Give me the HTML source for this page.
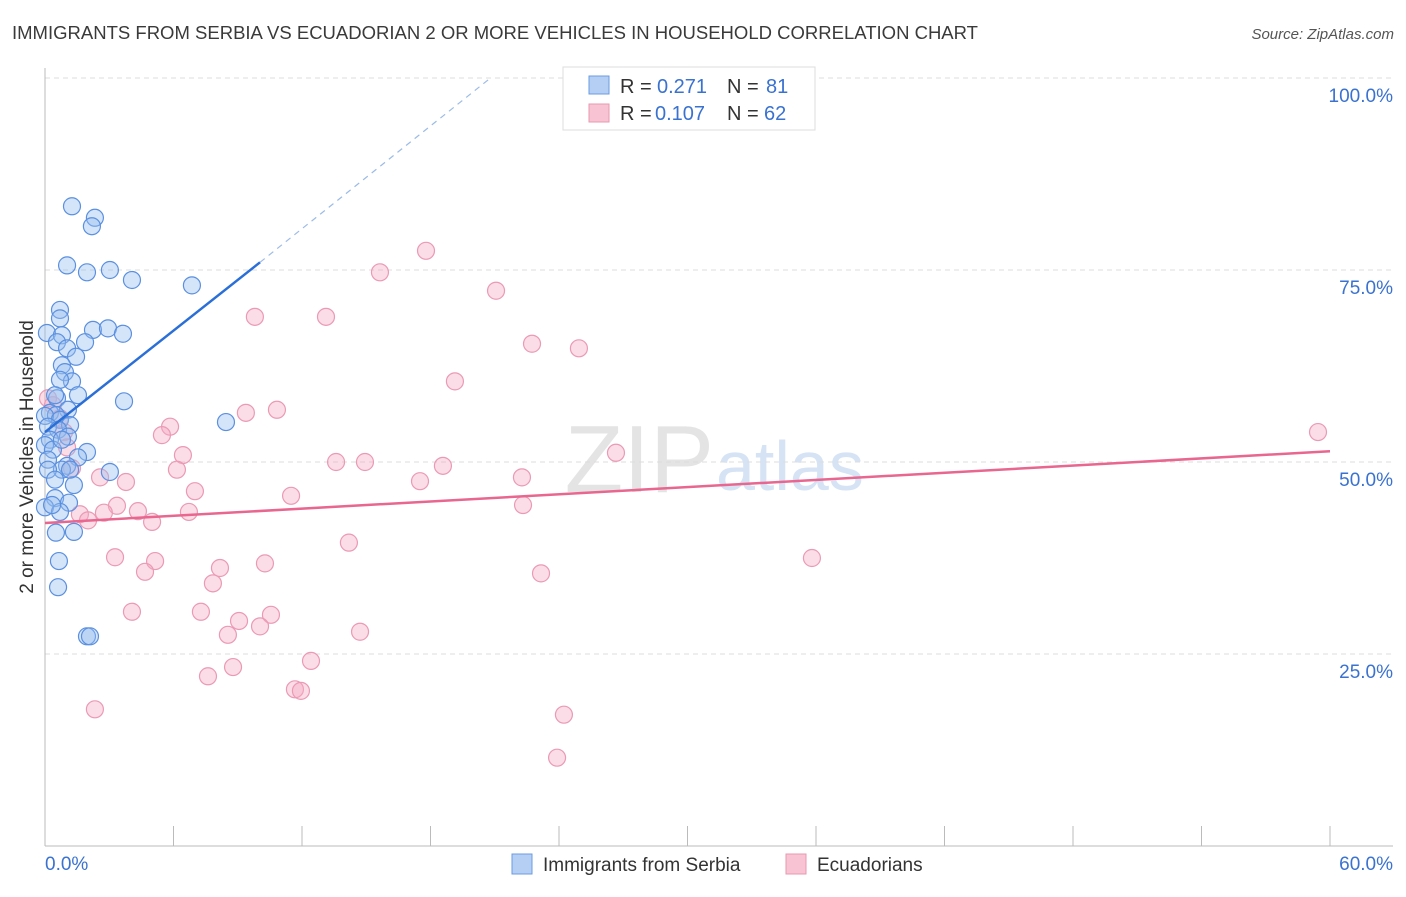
<!DOCTYPE html>
<html><head><meta charset="utf-8"><style>
body{margin:0;background:#fff;font-family:"Liberation Sans",sans-serif}
svg text{font-family:"Liberation Sans",sans-serif}
</style></head><body>
<svg id="chart" width="1406" height="892">
<text x="12" y="39" font-size="18" fill="#3a3a3a" textLength="966" lengthAdjust="spacingAndGlyphs">IMMIGRANTS FROM SERBIA VS ECUADORIAN 2 OR MORE VEHICLES IN HOUSEHOLD CORRELATION CHART</text>
<text x="1394" y="39" font-size="15" fill="#555" font-style="italic" text-anchor="end">Source: ZipAtlas.com</text>
<text x="714" y="492" font-size="96" fill="#e4e4e4" text-anchor="end" font-family="Liberation Serif">ZIP</text>
<text x="716" y="490" font-size="70" fill="#d6e3f5">atlas</text>
<g id="grid"></g><g id="axes"></g><g id="pts"></g><g id="trend"></g>
<text transform="translate(33,457) rotate(-90)" font-size="19" fill="#333" text-anchor="middle">2 or more Vehicles in Household</text>
<g>
<rect x="563" y="67" width="252" height="63" fill="#fff" stroke="#ddd"/>
<rect x="589" y="76" width="20" height="18" fill="#b4cff3" stroke="#6b9be0"/>
<rect x="589" y="104" width="20" height="18" fill="#f8c3d3" stroke="#e89ab2"/>
<g font-size="20">
<text x="620" y="93" fill="#333">R =</text><text x="657" y="93" fill="#3a72d0">0.271</text><text x="727" y="93" fill="#333">N =</text><text x="766" y="93" fill="#3a72d0">81</text></g>
<g font-size="20">
<text x="620" y="120" fill="#333">R =</text><text x="655" y="120" fill="#3a72d0">0.107</text><text x="727" y="120" fill="#333">N =</text><text x="764" y="120" fill="#3a72d0">62</text></g>
</g>
<g>
<rect x="512" y="854" width="20" height="20" fill="#b4cff3" stroke="#6b9be0"/>
<text x="543" y="871" font-size="19" fill="#333">Immigrants from Serbia</text>
<rect x="786" y="854" width="20" height="20" fill="#f8c3d3" stroke="#e89ab2"/>
<text x="817" y="871" font-size="19" fill="#333">Ecuadorians</text>
</g>
</svg>
<script>
const yTicks=[25,50,75,100];
const yTickLabels=["25.0%","50.0%","75.0%","100.0%"];
const xTickLabels=["0.0%","60.0%"];
const serbiaX=[1.26,2.33,2.19,1.03,1.96,3.03,4.06,6.86,0.70,0.70,0.09,0.79,2.24,2.94,3.64,0.56,1.87,1.03,1.45,0.79,0.93,1.26,0.70,1.54,3.69,0.56,1.07,0.23,0.51,0,0.70,1.17,0.14,0.61,1.07,0.23,0,1.96,0.37,1.54,0.14,1.03,0.79,3.03,1.35,0.14,0.47,8.45,0.47,1.12,0,0.70,0.51,1.35,0.65,0.61,1.96,2.10,0.33,0.79,0.47,1.17];
const serbiaY=[83.3,81.8,80.7,75.6,74.7,75.0,73.7,73.0,69.8,68.7,66.8,66.5,67.2,67.4,66.7,65.6,65.6,64.8,63.7,62.6,61.7,60.5,60.7,58.7,57.9,58.3,56.8,56.4,56.1,56.0,55.5,54.8,54.6,54.2,53.3,52.9,52.2,51.3,51.6,50.6,50.3,49.5,49.0,48.7,47.0,49.0,47.7,55.2,45.3,44.7,44.1,43.5,40.8,40.9,37.1,33.7,27.3,27.3,44.4,52.9,58.7,49.0];
const ecuX=[17.79,15.64,21.06,9.80,13.12,22.74,24.93,19.14,0.14,0.37,0.70,10.83,9.38,5.84,5.46,0.89,1.03,6.44,26.66,13.59,6.16,2.57,3.78,14.94,18.58,17.51,22.27,7.00,11.49,3.36,4.34,2.75,6.72,1.63,2.01,5.00,22.32,14.19,3.27,5.14,35.81,10.27,4.67,8.17,7.84,23.16,4.06,7.28,10.55,9.06,10.04,8.54,14.71,12.42,8.78,7.61,11.67,11.95,2.33,24.23,23.91,59.44,1.26];
const ecuY=[77.5,74.7,72.3,68.9,68.9,65.4,64.8,60.5,58.3,57.4,55.7,56.8,56.4,54.6,53.5,53.9,51.9,50.9,51.2,50.0,49.0,48.0,47.4,50.0,49.5,47.5,48.0,46.2,45.6,44.3,43.6,43.4,43.5,43.2,42.4,42.2,44.4,39.5,37.6,37.1,37.5,36.8,35.7,36.2,34.2,35.5,30.5,30.5,30.1,29.3,28.6,27.5,27.9,24.1,23.3,22.1,20.4,20.2,17.8,17.1,11.5,53.9,49.2];
const serbiaTrend=[0,53.9,10.04,76.0,20.8,100];
const ecuTrend=[0,42.06,60,51.4];
const X=v=>45+v/60*1285, Y=v=>846-v/100*768;
const NS="http://www.w3.org/2000/svg";
function mk(t,a,p){const e=document.createElementNS(NS,t);for(const k in a)e.setAttribute(k,a[k]);p.appendChild(e);return e;}
const grid=document.getElementById('grid'),axes=document.getElementById('axes'),pts=document.getElementById('pts'),tr=document.getElementById('trend');
yTicks.forEach((v,i)=>{
 const l=mk('line',{x1:45,x2:1393,y1:Y(v),y2:Y(v),stroke:'#ddd','stroke-dasharray':'5,4'},grid);
 
 
 const t=mk('text',{x:1393,y:Y(v)+24,'font-size':19,fill:'#3a72d0','text-anchor':'end'},grid);t.textContent=yTickLabels[i];
 
 
});
let a=mk('line',{x1:45,x2:45,y1:68,y2:846,stroke:'#bbb'},axes);


a=mk('line',{x1:45,x2:1393,y1:846,y2:846,stroke:'#bbb'},axes);


for(let i=0;i<=10;i++){const tk=mk('line',{x1:X(i*6),x2:X(i*6),y1:826,y2:846,stroke:'#bbb'},axes);
 
 }
let t=mk('text',{x:45,y:870,'font-size':19,fill:'#3a72d0'},axes);t.textContent=xTickLabels[0];


t=mk('text',{x:1393,y:870,'font-size':19,fill:'#3a72d0','text-anchor':'end'},axes);t.textContent=xTickLabels[1];


ecuX.forEach((x,i)=>{const c=mk('circle',{cx:X(x),cy:Y(ecuY[i]),r:8.5,fill:'rgba(245,170,195,0.4)',stroke:'#eb9ab4','stroke-width':1.2},pts);
 
 });
serbiaX.forEach((x,i)=>{const c=mk('circle',{cx:X(x),cy:Y(serbiaY[i]),r:8.5,fill:'rgba(150,190,240,0.4)',stroke:'#5b90e0','stroke-width':1.2},pts);
 
 });
let ln=mk('line',{x1:X(serbiaTrend[0]),y1:Y(serbiaTrend[1]),x2:X(serbiaTrend[2]),y2:Y(serbiaTrend[3]),stroke:'#2a6fd8','stroke-width':2.5},tr);


ln=mk('line',{x1:X(serbiaTrend[2]),y1:Y(serbiaTrend[3]),x2:X(serbiaTrend[4]),y2:Y(serbiaTrend[5]),stroke:'#9bbbe8','stroke-width':1.2,'stroke-dasharray':'6,5'},tr);


ln=mk('line',{x1:X(ecuTrend[0]),y1:Y(ecuTrend[1]),x2:X(ecuTrend[2]),y2:Y(ecuTrend[3]),stroke:'#e8668f','stroke-width':2.5},tr);


</script>
</body></html>
